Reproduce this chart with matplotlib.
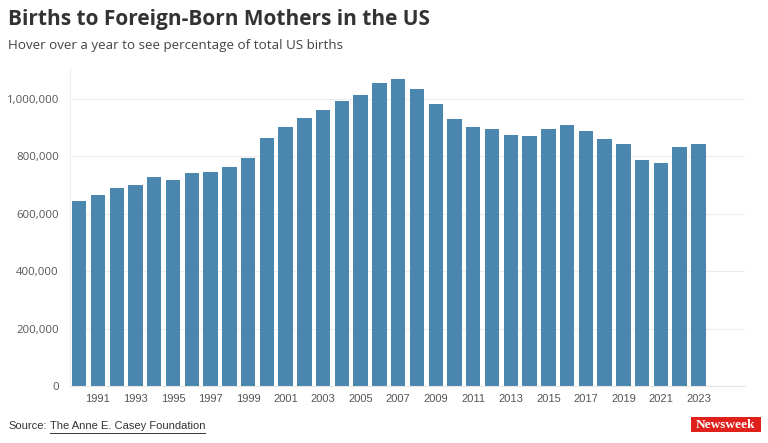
import matplotlib
matplotlib.use("Agg")
import matplotlib.pyplot as plt
from matplotlib.ticker import FuncFormatter, FixedLocator
from matplotlib.patches import Rectangle

years = list(range(1990, 2024))
births = [643000, 664000, 688000, 698000, 726000, 718000, 740000, 744000, 763000, 795000,
          864000, 902000, 931000, 962000, 990000, 1013000, 1056000, 1067000, 1032000, 981000,
          928000, 900000, 894000, 873000, 870000, 896000, 908000, 886000, 858000, 842000,
          787000, 777000, 830000, 841000]
tick_years = list(range(1991, 2024, 2))
y_ticks = [0, 200000, 400000, 600000, 800000, 1000000]

title = "Births to Foreign-Born Mothers in the US"
subtitle = "Hover over a year to see percentage of total US births"
source_label = "Source:"
source_name = "The Anne E. Casey Foundation"

bar_color = "#4a86ae"

fig = plt.figure(figsize=(7.68, 4.43), dpi=100)
W, H = 768, 443
ax = fig.add_axes([70 / W, 1 - 386 / H, (745 - 70) / W, (386 - 67) / H])

ax.bar(years, births, width=0.77, color=bar_color, zorder=2)
ax.set_xlim(1989.51, 2025.48)
ax.set_ylim(0, 1110000)

ax.yaxis.set_major_locator(FixedLocator(y_ticks))
ax.yaxis.set_major_formatter(FuncFormatter(lambda v, p: f"{int(v):,}"))
ax.xaxis.set_major_locator(FixedLocator(tick_years))
ax.grid(axis="y", color="#ececec", linewidth=0.8, zorder=0)
for s in ["top", "right"]:
    ax.spines[s].set_visible(False)
ax.spines["left"].set_color("#f0f0f0")
ax.spines["left"].set_linewidth(0.8)
ax.spines["bottom"].set_color("#e6e6e6")
ax.spines["bottom"].set_linewidth(0.8)
ax.tick_params(axis="both", length=0, labelsize=8.2, colors="#555555")
ax.tick_params(axis="x", pad=6)
ax.tick_params(axis="y", pad=8)
for lbl in ax.get_xticklabels():
    lbl.set_fontfamily(["Liberation Sans", "DejaVu Sans"])
    lbl.set_fontsize(8)
for lbl in ax.get_yticklabels():
    lbl.set_fontfamily(["Open Sans", "DejaVu Sans"])

fig.text(8 / W, 1 - 20 / H, title, fontsize=15, fontweight="bold", color="#333333",
         va="center", ha="left", family=["Open Sans", "DejaVu Sans"])
fig.text(8 / W, 1 - 46 / H, subtitle, fontsize=9.6, color="#444444",
         va="center", ha="left", family=["Open Sans", "DejaVu Sans"])

src = fig.text(8 / W, 1 - 426 / H, source_label, fontsize=8, color="#333333",
               va="center", ha="left", family=["Liberation Sans", "DejaVu Sans"])
fig.canvas.draw()
r = fig.canvas.get_renderer()
bb = src.get_window_extent(r)
name = fig.text((bb.x1 + 3) / W, 1 - 426 / H, source_name, fontsize=8, color="#333333",
                va="center", ha="left", family=["Liberation Sans", "DejaVu Sans"])
fig.canvas.draw()
nb = name.get_window_extent(r)
fig.add_artist(plt.Line2D([nb.x0 / W, nb.x1 / W], [1 - 432.5 / H, 1 - 432.5 / H],
                          transform=fig.transFigure, color="#333333", linewidth=0.7))

fig.add_artist(Rectangle((691 / W, 1 - 432 / H), 70 / W, 15 / H, transform=fig.transFigure,
                         facecolor="#e0201b", edgecolor="none"))
fig.text(726 / W, 1 - 424.5 / H, "Newsweek", fontsize=9.6, color="white", fontweight="bold",
         va="center", ha="center", family=["Liberation Serif", "DejaVu Serif"])

fig.savefig("out.png", dpi=100)
